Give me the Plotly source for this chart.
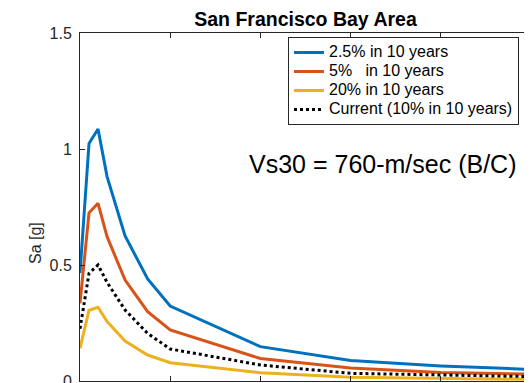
import plotly.graph_objects as go

# Data
periods = [0, 0.1, 0.2, 0.3, 0.5, 0.75, 1, 2, 3, 4, 5]
sa_2p5 = [0.465, 1.024, 1.086, 0.881, 0.625, 0.440, 0.323, 0.148, 0.088, 0.065, 0.050]
sa_5 = [0.335, 0.725, 0.766, 0.622, 0.435, 0.299, 0.220, 0.097, 0.056, 0.037, 0.030]
sa_20 = [0.141, 0.305, 0.318, 0.256, 0.172, 0.112, 0.079, 0.036, 0.016, 0.012, 0.007]
sa_current = [0.225, 0.464, 0.500, 0.425, 0.306, 0.205, 0.138, 0.069, 0.033, 0.026, 0.019]

series_names = ["2.5% in 10 years", "5%   in 10 years", "20% in 10 years", "Current (10% in 10 years)"]
y_ticks = [0, 0.5, 1, 1.5]
y_ticklabels = ["0", "0.5", "1", "1.5"]
x_ticks = [0, 1, 2, 3, 4, 5]

FONT = "Liberation Sans, Arial, Helvetica, sans-serif"
AX = "#262626"

# page body has an 8px margin; figure sized so the screenshot window is filled
W, H = 524, 375
L, R, T, B = 72, 1, 25, 2
PW, PH = W - L - R, H - T - B


def px(sx):  # screenshot x -> paper
    return (sx - 8 - L) / PW


def py(sy):  # screenshot y -> paper
    return (H - B - (sy - 8)) / PH


fig = go.Figure()
styles = [
    dict(color="#0072BD", width=3, dash="solid"),
    dict(color="#D95319", width=3, dash="solid"),
    dict(color="#EDB120", width=3, dash="solid"),
    dict(color="#000000", width=3, dash="dot"),
]
for name, ys, st in zip(series_names, [sa_2p5, sa_5, sa_20, sa_current], styles):
    fig.add_trace(go.Scatter(x=periods, y=ys, mode="lines",
                             name=f'<span style="font-size:16px">{name}</span>', line=st))

fig.update_layout(
    width=W, height=H,
    margin=dict(l=L, r=R, t=T, b=B, autoexpand=False),
    paper_bgcolor="white", plot_bgcolor="white",
    font=dict(family=FONT, size=16, color=AX),
    title=dict(text="<b>San Francisco Bay Area</b>", x=0.5, xref="paper",
               y=1 - (19 - 8) / H, yref="container", yanchor="middle", xanchor="center",
               font=dict(family=FONT, size=19.5, color="black")),
    showlegend=True,
    legend=dict(x=px(519), y=py(37), xanchor="right", yanchor="top",
                bgcolor="white", bordercolor=AX, borderwidth=1,
                font=dict(family=FONT, size=12, color="black"),
                itemwidth=30, tracegroupgap=0),
    xaxis=dict(range=[0, 5], tickvals=x_ticks, showticklabels=False,
               ticks="inside", ticklen=5, tickcolor=AX, tickwidth=1,
               showline=True, linecolor=AX, linewidth=1, mirror="ticks",
               showgrid=False, zeroline=False, automargin=False),
    yaxis=dict(range=[0, 1.5], tickvals=y_ticks, ticktext=y_ticklabels,
               ticks="inside", ticklen=5, tickcolor=AX, tickwidth=1,
               showline=True, linecolor=AX, linewidth=1, mirror="ticks",
               showgrid=False, zeroline=False, ticklabelstandoff=4, automargin=False,
               ticklabeloverflow="allow",
               tickfont=dict(family=FONT, size=16, color=AX)),
)

fig.add_annotation(text="Sa [g]", textangle=-90, xref="paper", yref="paper",
                   x=px(35), y=py(243), showarrow=False,
                   xanchor="center", yanchor="middle",
                   font=dict(family=FONT, size=16, color=AX))
fig.add_annotation(text="Vs30 = 760-m/sec (B/C)", xref="paper", yref="paper",
                   x=px(518), y=py(164), showarrow=False,
                   xanchor="right", yanchor="middle",
                   font=dict(family=FONT, size=25, color="black"))

fig.write_html("out.html")
